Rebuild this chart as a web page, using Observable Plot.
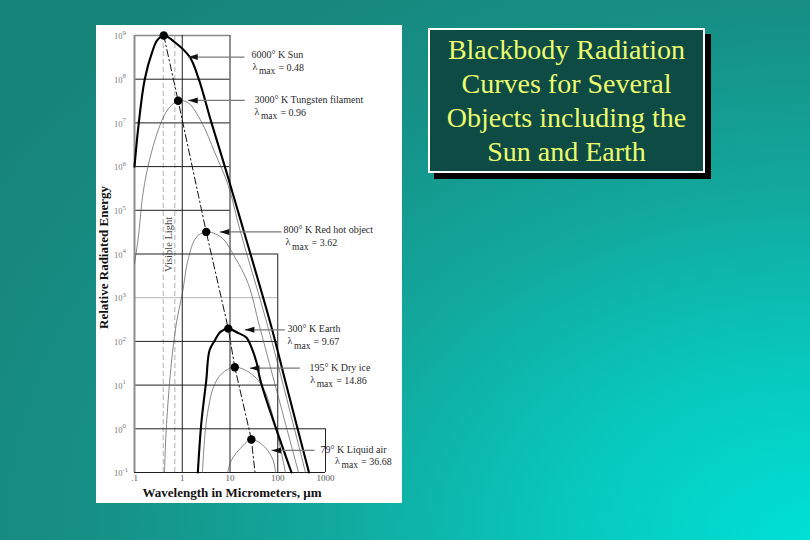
<!DOCTYPE html>
<html>
<head>
<meta charset="utf-8">
<script src="https://cdn.jsdelivr.net/npm/d3@7"></script>
<script src="https://cdn.jsdelivr.net/npm/@observablehq/plot@0.6"></script>
<style>
  html, body { margin: 0; padding: 0; }
  body {
    width: 810px; height: 540px; overflow: hidden; position: relative;
    background: radial-gradient(ellipse 120% 130% at 100% 100%, #00e0d6 0%, #08c8bd 25%, #12a89d 50%, #168f85 75%, #17847a 100%);
    font-family: "Liberation Serif", "Times New Roman", serif;
  }
  #panel { position: absolute; left: 96px; top: 25px; width: 306px; height: 478px; background: #fff; }
  #panel svg { display: block; }
  #titlebox {
    position: absolute; left: 428px; top: 28px; width: 273px; height: 138px;
    background: #0e4b45; border: 2px solid #fff; box-shadow: 6px 6px 0 #000;
    color: #ecfd6e; font-family: "Liberation Serif", serif; font-size: 28px;
    line-height: 34px; text-align: center; padding-top: 3px; box-sizing: content-box;
    white-space: nowrap;
  }
</style>
</head>
<body>
<div id="panel"></div>
<div id="titlebox">Blackbody Radiation<br>Curves for Several<br>Objects including the<br>Sun and Earth</div>
<script>
// ---------- data ----------
const wavelengthTicks = [0.1, 0.4, 0.7, 1, 10, 100, 1000];
const wavelengthTickLabels = [".1", ".4", ".7", "1", "10", "100", "1000"];
const energyTicks = [0.1, 1, 10, 100, 1e3, 1e4, 1e5, 1e6, 1e7, 1e8, 1e9];
const energyTickExponents = ["-1", "0", "1", "2", "3", "4", "5", "6", "7", "8", "9"];
const visibleLight = [0.4, 0.7];

// [wavelength µm, relative energy]
const sun6000 = [[0.1,1e6],[0.123,1e7],[0.164,1e8],[0.235,4.2e8],[0.30,7.8e8],[0.41,1e9],[0.70,7e8],[1.44,3.2e8],[2.22,1e8],[4.1,1e7],[7.8,1e6],[14.5,1e5],[19.2,3.5e4],[74,211],[151,10],[451,0.1]];
const tungsten3000 = [[0.1,6e3],[0.119,2.2e4],[0.152,2.6e5],[0.209,1.5e6],[0.34,8.7e6],[0.51,2.1e7],[0.82,3.2e7],[1.33,2.9e7],[2.53,1.05e7],[4.8,2.1e6],[9.2,3.7e5],[16.2,3.5e4],[62.5,211],[381,0.1]];
const redHot800 = [[0.425,0.1],[0.446,0.45],[0.50,3.7],[0.59,31],[0.75,250],[1.03,1460],[1.31,7100],[1.96,2.4e4],[3.18,3.2e4],[6.6,2.4e4],[12.6,8500],[24,2100],[42,211],[272,0.1]];
const earth300 = [[2.12,0.1],[2.50,1.3],[3.18,12.7],[3.72,62],[4.8,105],[6.3,165],[9.2,196],[14.4,158],[22,123],[28,74],[36,33],[44,12],[194,0.1]];
const dryIce195 = [[2.65,0.1],[3.0,0.78],[3.55,3.1],[4.5,8.9],[6.6,18],[12.6,25.7],[28,18],[53,7.5],[145,0.1]];
const liquidAir79 = [[8.9,0.1],[10.7,0.19],[17.4,0.38],[28,0.57],[54,0.38],[80,0.19],[90,0.1]];
const peaks = [[0.41,1e9],[0.82,3.2e7],[3.18,3.2e4],[9.2,196],[12.6,25.7],[28,0.57]];
const wienLine = [[0.41,1e9],[0.82,3.2e7],[3.18,3.2e4],[9.2,196],[12.6,25.7],[28,0.57],[33.4,0.1]];

const labelNames = ["6000° K Sun", "3000° K Tungsten filament", "800° K Red hot object", "300° K Earth", "195° K Dry ice", "79° K Liquid air"];
const labelLambdaMax = ["0.48", "0.96", "3.62", "9.67", "14.86", "36.68"];
// arrow tip (on curve) and tail, in data coordinates
const arrowTips = [[1.33,3.2e8],[1.33,3.26e7],[6.1,3.2e4],[20.4,184],[26,24.4],[74,0.32]];
const arrowTails = [[20.1,3.2e8],[20.4,3.26e7],[120,3.2e4],[141,184],[290,24.4],[590,0.32]];

// grid: horizontal [E, right end λ], vertical [λ, top E]
const gridH = [[1e9,10],[1e8,10],[1e7,10],[1e6,10],[1e5,10],[1e4,100],[1e2,100],[1e1,100],[1,1000],[0.1,1000]];
const gridHLight = [[1e3,100]];
const gridV = [[1,1e9],[10,1e9],[100,1e4],[1000,1]];

// ---------- layout (pixels) ----------
const labelLayout = [
  {dx1: 7,   dy1: -2.7, dx2: 8,    dy2: 10.3},
  {dx1: 9.7, dy1: -1,   dx2: 9.7,  dy2: 12},
  {dx1: 2,   dy1: -1.7, dx2: 4,    dy2: 11.3},
  {dx1: 2.7, dy1: -1,   dx2: 2.7,  dy2: 12.4},
  {dx1: 9.7, dy1: -0.4, dx2: 10.4, dy2: 12.3},
  {dx1: 6,   dy1: -0.7, dx2: 20.5, dy2: 11}
];

const thin = [tungsten3000, redHot800, dryIce195, liquidAir79];
const thick = [sun6000, earth300];

const leftTriangle = {
  draw(ctx, size) {
    const r = Math.sqrt(size / Math.PI);
    ctx.moveTo(-1.2 * r, 0);
    ctx.lineTo(1.2 * r, -0.75 * r);
    ctx.lineTo(1.2 * r, 0.75 * r);
    ctx.closePath();
  }
};

const X = d => d[0], Y = d => d[1];
const labelMarks = labelNames.flatMap((name, i) => {
  const L = labelLayout[i], t = [arrowTails[i]];
  return [
    Plot.text(t, {x: X, y: Y, text: () => name, textAnchor: "start", dx: L.dx1, dy: L.dy1, fontSize: 10, fill: "#2a2a2a"}),
    Plot.text(t, {x: X, y: Y, text: () => "λ", textAnchor: "start", dx: L.dx2, dy: L.dy2 - 1, fontSize: 10, fill: "#2a2a2a"}),
    Plot.text(t, {x: X, y: Y, text: () => "max", textAnchor: "start", dx: L.dx2 + 6.5, dy: L.dy2 + 3.5, fontSize: 9.5, fill: "#2a2a2a"}),
    Plot.text(t, {x: X, y: Y, text: () => "= " + labelLambdaMax[i], textAnchor: "start", dx: L.dx2 + 26, dy: L.dy2, fontSize: 10, fill: "#2a2a2a"})
  ];
});

const arrowLinks = arrowTips.map((t, i) => ({x1: arrowTails[i][0], y1: arrowTails[i][1], x2: t[0], y2: t[1]}));

const chart = Plot.plot({
  width: 306, height: 478,
  marginLeft: 38, marginRight: 77, marginTop: 10, marginBottom: 31,
  x: {type: "log", domain: [0.1, 1000]},
  y: {type: "log", domain: [0.1, 1e9], axis: null},
  style: {background: "white", fontFamily: "'Liberation Serif', 'Times New Roman', serif", fontSize: "9px"},
  marks: [
    Plot.ruleX(visibleLight, {x: d => d, y1: 0.1, y2: 1e9, stroke: "#9a9a9a", strokeWidth: 0.8, strokeDasharray: "5,3"}),
    Plot.ruleY(gridHLight, {y: d => d[0], x1: 0.1, x2: d => d[1], stroke: "#c4c4c4", strokeWidth: 1.2}),
    Plot.ruleY(gridH.filter(d => d[0] !== 1e9), {y: d => d[0], x1: 0.1, x2: d => d[1], stroke: "#1e1e1e", strokeWidth: 1}),
    Plot.ruleY(gridH.filter(d => d[0] === 1e9), {y: d => d[0], x1: 0.1, x2: d => d[1], stroke: "#888", strokeWidth: 1.3}),
    Plot.ruleX(gridV, {x: d => d[0], y1: 0.1, y2: d => d[1], stroke: "#1e1e1e", strokeWidth: 1}),
    Plot.ruleX([0.1], {x: d => d, y1: 0.1, y2: 1e9, stroke: "#8c8c8c", strokeWidth: 2}),
    ...thin.map(s => Plot.line(s, {x: X, y: Y, stroke: "#555", strokeWidth: 0.7, curve: "catmull-rom"})),
    ...thick.map(s => Plot.line(s, {x: X, y: Y, stroke: "#000", strokeWidth: 2.1, curve: "catmull-rom"})),
    Plot.line(wienLine, {x: X, y: Y, stroke: "#111", strokeWidth: 1, strokeDasharray: "7,3,1.5,3"}),
    Plot.dot(peaks, {x: X, y: Y, r: 4.2, fill: "#000", stroke: "none"}),
    Plot.link(arrowLinks, {x1: "x1", y1: "y1", x2: "x2", y2: "y2", stroke: "#7a7a7a", strokeWidth: 1.2}),
    Plot.dot(arrowTips, {x: X, y: Y, r: 4, symbol: leftTriangle, fill: "#111", stroke: "none", dx: 4.8}),
    Plot.text(["Visible Light"], {x: () => 0.53, y: () => 1.66e4, text: d => d, rotate: -90, fontSize: 10.5, fill: "#444"}),
    ...labelMarks,
    // y tick labels: "10" with a raised exponent
    Plot.text(energyTicks, {frameAnchor: "left", y: d => d, text: () => "10", textAnchor: "end", dx: -12, dy: 1, fontSize: 8.5, fill: "#7a7a7a"}),
    Plot.text(energyTicks, {frameAnchor: "left", y: d => d, text: (d, i) => energyTickExponents[i], textAnchor: "start", dx: -12, dy: -3, fontSize: 7, fill: "#7a7a7a"}),
    Plot.axisX(wavelengthTicks, {tickSize: 0, tickPadding: 2, tickFormat: d => wavelengthTickLabels[wavelengthTicks.indexOf(d)], fill: "#555", fontSize: 9, label: null}),
    Plot.text(["Relative Radiated Energy"], {frameAnchor: "left", textAnchor: "middle", lineAnchor: "middle", text: d => d, rotate: -90, dx: -31, dy: 3.5, fontSize: 13, fontWeight: "bold", fill: "#111"}),
    Plot.text(["Wavelength in Micrometers, μm"], {frameAnchor: "bottom", textAnchor: "middle", lineAnchor: "middle", text: d => d, dx: 2, dy: 20, fontSize: 13, fontWeight: "bold", fill: "#111"})
  ]
});
document.getElementById("panel").appendChild(chart);
</script>
</body>
</html>
